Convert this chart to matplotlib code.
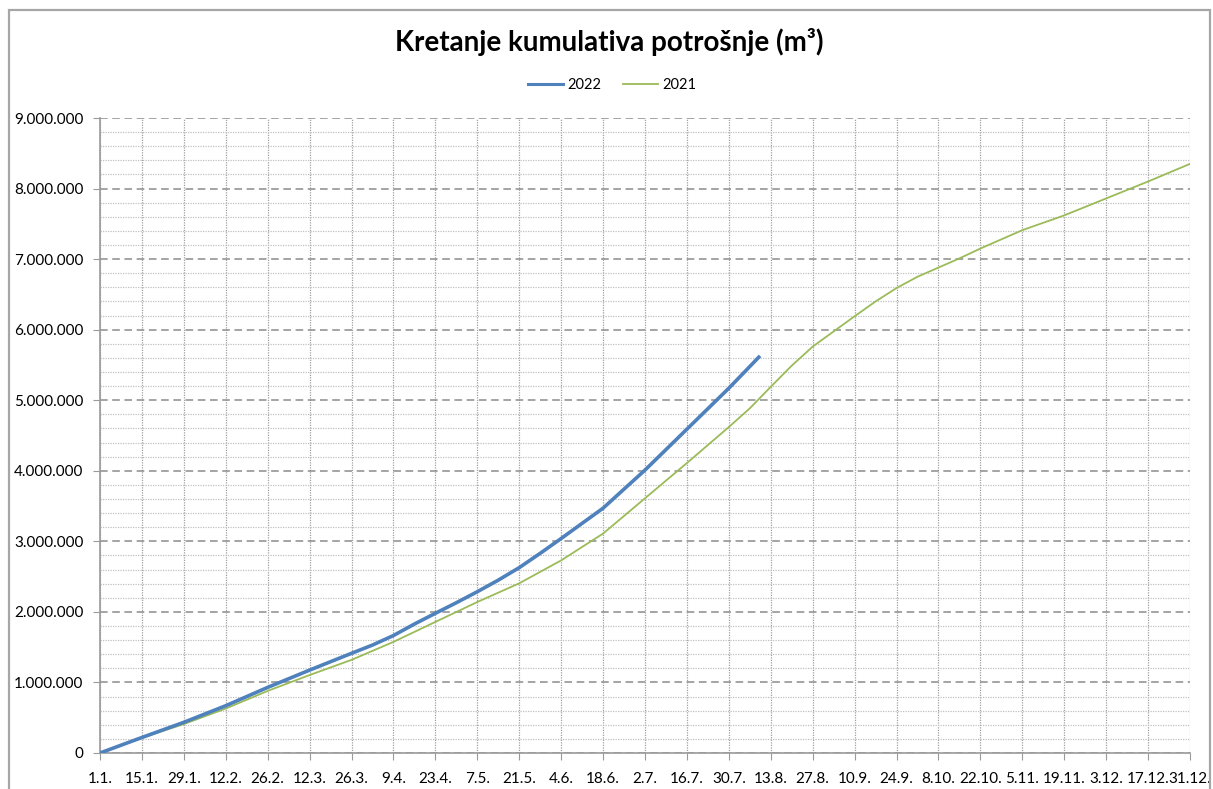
import matplotlib
matplotlib.use("Agg")
import matplotlib.pyplot as plt
from matplotlib.ticker import FuncFormatter, MultipleLocator
from matplotlib.patches import Rectangle
from matplotlib.lines import Line2D

plt.rcParams['font.family'] = ['Lato', 'DejaVu Sans']

# x tick labels (every 14 days from 1.1.)
tick_labels = ["1.1.", "15.1.", "29.1.", "12.2.", "26.2.", "12.3.", "26.3.", "9.4.", "23.4.",
               "7.5.", "21.5.", "4.6.", "18.6.", "2.7.", "16.7.", "30.7.", "13.8.", "27.8.",
               "10.9.", "24.9.", "8.10.", "22.10.", "5.11.", "19.11.", "3.12.", "17.12.", "31.12."]
tick_days = [14 * i for i in range(len(tick_labels))]

# 2022 series (day of year index, cumulative m3)
days_2022 = [0, 14, 28, 42, 56, 70, 84, 91, 98, 105, 112, 119, 126, 133, 140, 147, 154,
             168, 182, 196, 210, 220]
vals_2022 = [0, 220000, 435000, 670000, 930000, 1175000, 1413000, 1530000, 1665000, 1828000,
             1980000, 2130000, 2286000, 2450000, 2627000, 2830000, 3040000,
             3470000, 4010000, 4590000, 5170000, 5610000]

# 2021 series
days_2021 = [0, 14, 28, 42, 56, 70, 84, 98, 112, 126, 140, 154, 168, 182, 196, 210, 217,
             224, 231, 238, 245, 252, 259, 266, 273, 280, 287, 294, 308, 322, 336, 350, 364]
vals_2021 = [0, 215000, 410000, 630000, 880000, 1105000, 1320000, 1575000, 1858000, 2140000,
             2405000, 2730000, 3110000, 3610000, 4110000, 4620000, 4885000,
             5190000, 5490000, 5760000, 5975000, 6190000, 6400000, 6590000, 6750000,
             6880000, 7010000, 7150000, 7410000, 7620000, 7860000, 8100000, 8350000]

W, H = 1213, 789
fig = plt.figure(figsize=(W / 100, H / 100), dpi=100)
ax = fig.add_axes([100 / W, 1 - 753 / H, 1090 / W, 635 / H])

# outer frame
fig.patches.append(Rectangle((8.5 / W, -0.1), (1210 - 8.5) / W, (H - 10) / H + 0.1,
                             transform=fig.transFigure, fill=False, edgecolor="#a6a6a6",
                             linewidth=1.6, zorder=0))

c2022 = "#4F81BD"
c2021 = "#9BBB59"
ax.plot(days_2021, vals_2021, color=c2021, linewidth=1.3, zorder=3)
ax.plot(days_2022, vals_2022, color=c2022, linewidth=2.6, zorder=4)

ax.set_xlim(0, 364)
ax.set_ylim(0, 9000000)
ax.set_xticks(tick_days)
ax.set_xticklabels(tick_labels)
ax.yaxis.set_major_locator(MultipleLocator(1000000))
ax.yaxis.set_minor_locator(MultipleLocator(200000))
ax.yaxis.set_major_formatter(FuncFormatter(lambda v, p: f"{int(v):,}".replace(",", ".")))

ax.grid(axis="y", which="major", color="#8c8c8c", linestyle=(0, (5, 3)), linewidth=1.1)
ax.grid(axis="y", which="minor", color="#c0c0c0", linestyle=(0, (1, 1)), linewidth=0.9)
ax.grid(axis="x", which="major", color="#a0a0a0", linestyle=(0, (1, 1)), linewidth=0.9)
ax.set_axisbelow(True)

for s in ["top", "right"]:
    ax.spines[s].set_visible(False)
for s in ["left", "bottom"]:
    ax.spines[s].set_color("#9a9a9a")
    ax.spines[s].set_linewidth(1.2)

ax.tick_params(axis="y", which="major", length=5, color="#9a9a9a", labelsize=11, pad=7,
               labelcolor="#000000")
ax.tick_params(axis="y", which="minor", length=0)
ax.tick_params(axis="x", which="major", length=5, color="#9a9a9a", labelsize=11, pad=9,
               labelcolor="#000000")

fig.text(609 / W, 1 - 42 / H, "Kretanje kumulativa potrošnje (m³)", ha="center", va="center",
         fontsize=20, fontweight="bold")

handles = [Line2D([], [], color=c2022, linewidth=2.2), Line2D([], [], color=c2021, linewidth=1.3)]
fig.legend(handles, ["2022", "2021"], loc="center", bbox_to_anchor=(612 / W, 1 - 85 / H),
           ncol=2, frameon=False, fontsize=10.5, handlelength=2.4, columnspacing=1.5,
           handletextpad=0.3)

fig.savefig("out.png", dpi=100)
